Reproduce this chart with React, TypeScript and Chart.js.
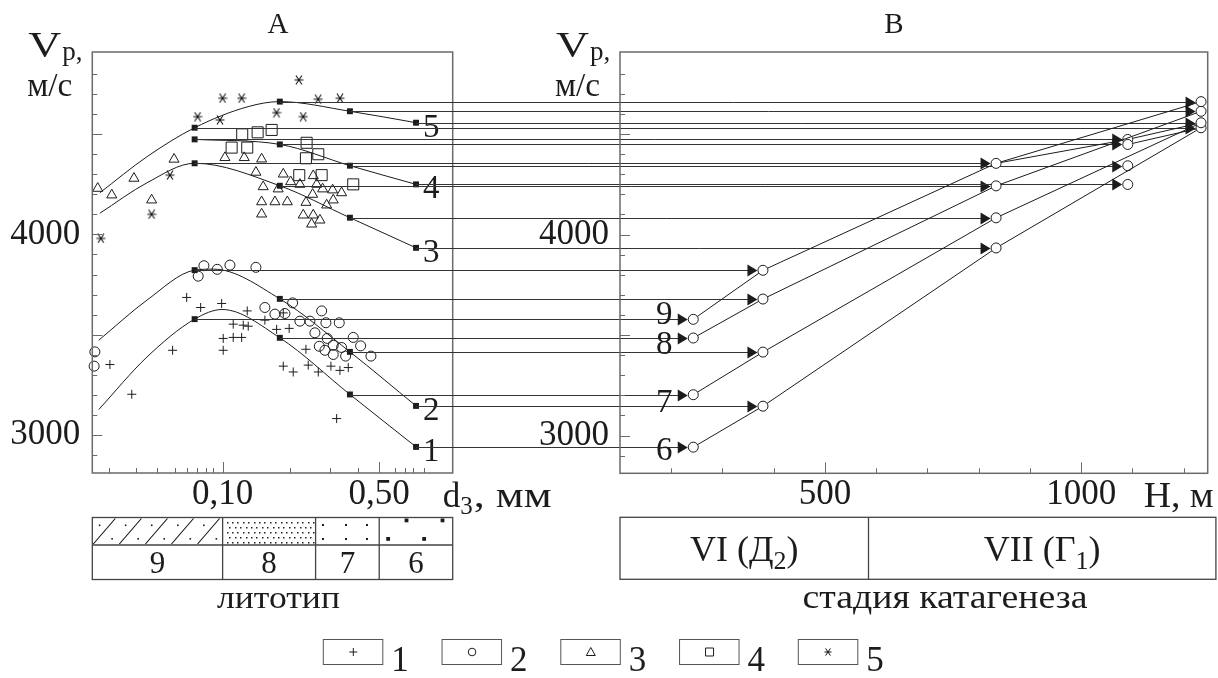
import React, { useEffect, useRef } from 'react';
import { Chart, registerables } from 'chart.js';

Chart.register(...registerables);

const W = 1218;
const H = 678;
const SERIF = '"Liberation Serif", "Times New Roman", serif';
const INK = '#1c1c1c';
const FRAME = '#6a6a6a';
const LINK = '#333333';

// ---------------- Panel A: Vp vs grain size d3 (mm), log axis ----------------
const dMin = 0.0262;
const dMax = 1.064;
const dTickValues = [0.1, 0.5];
const dTickLabels = ['0,10', '0,50'];
const dMinorTicks = [0.031, 0.041, 0.051, 0.061, 0.069, 0.077, 0.084, 0.091, 0.2, 0.3, 0.4, 0.59, 0.65, 0.71, 0.79];

const vpMin = 2812;
const vpMax = 4908;
const vpTickValues = [3000, 4000];
const vpMinorTicks = [2900, 3000, 3100, 3200, 3300, 3400, 3500, 3600, 3700, 3800, 3900, 4000, 4100, 4200, 4300, 4400, 4500, 4600, 4700, 4800];

// group 1 (+)
const plusD = [0.0314, 0.0393, 0.0598, 0.0691, 0.0798, 0.099, 0.1006, 0.1006, 0.1115, 0.1236, 0.1288, 0.1301, 0.1115, 0.1216, 0.1544, 0.1742, 0.1865, 0.1982, 0.1865, 0.2066, 0.2355, 0.241, 0.2673, 0.3044, 0.3339, 0.3638, 0.3228];
const plusV = [3352, 3204, 3423, 3686, 3636, 3656, 3482, 3423, 3553, 3548, 3619, 3543, 3487, 3487, 3573, 3527, 3609, 3532, 3344, 3315, 3428, 3349, 3315, 3344, 3323, 3337, 3083];
// group 2 (o)
const circD = [0.0269, 0.0267, 0.0825, 0.0778, 0.0946, 0.1078, 0.1408, 0.1544, 0.1712, 0.1897, 0.2053, 0.2213, 0.2453, 0.2767, 0.2891, 0.3316, 0.2582, 0.2931, 0.27, 0.2862, 0.3117, 0.3117, 0.3396, 0.354, 0.3828, 0.413, 0.4592];
const circV = [3415, 3344, 3844, 3792, 3826, 3847, 3836, 3636, 3603, 3606, 3659, 3568, 3568, 3619, 3560, 3560, 3510, 3482, 3443, 3423, 3448, 3402, 3437, 3394, 3487, 3445, 3394];
// group 3 (triangle)
const triD = [0.0277, 0.032, 0.0402, 0.0482, 0.0607, 0.1024, 0.1249, 0.1493, 0.1408, 0.1517, 0.177, 0.1865, 0.2012, 0.2213, 0.1493, 0.1712, 0.1944, 0.1493, 0.2355, 0.229, 0.2522, 0.2538, 0.2496, 0.2538, 0.2719, 0.2795, 0.2913, 0.3097, 0.3117, 0.3396, 0.2628];
const triV = [4229, 4196, 4279, 4171, 4374, 4382, 4382, 4375, 4309, 4237, 4226, 4300, 4262, 4249, 4162, 4162, 4162, 4101, 4159, 4096, 4199, 4292, 4051, 4096, 4071, 4226, 4146, 4221, 4171, 4207, 4249];
// group 4 (square)
const sqD = [0.1223, 0.1433, 0.1655, 0.1097, 0.1288, 0.2371, 0.2354, 0.2673, 0.2198, 0.2767, 0.3828];
const sqV = [4498, 4508, 4520, 4432, 4432, 4456, 4379, 4399, 4295, 4295, 4249];
// group 5 (asterisk)
const starD = [0.0286, 0.0482, 0.0582, 0.0773, 0.0973, 0.1, 0.1216, 0.174, 0.219, 0.229, 0.267, 0.334];
const starV = [3980, 4100, 4295, 4586, 4570, 4678, 4678, 4606, 4769, 4586, 4673, 4678];

// regression curves 1..5
const curve1D = [0.028, 0.046, 0.075, 0.0995, 0.18, 0.37, 0.73];
const curve1V = [3128, 3390, 3578, 3626, 3485, 3203, 2942];
const curve2D = [0.028, 0.046, 0.075, 0.091, 0.18, 0.37, 0.73];
const curve2V = [3473, 3673, 3822, 3827, 3679, 3415, 3146];
const curve3D = [0.0283, 0.046, 0.075, 0.18, 0.37, 0.73];
const curve3V = [4105, 4257, 4354, 4242, 4083, 3933];
const curve4D = [0.075, 0.18, 0.37, 0.73];
const curve4V = [4473, 4448, 4342, 4249];
const curve5D = [0.0283, 0.046, 0.075, 0.13, 0.18, 0.37, 0.73];
const curve5V = [4207, 4387, 4531, 4636, 4661, 4613, 4556];
const curveLabels = ['1', '2', '3', '4', '5'];

// lithotypes 9, 8, 7, 6: representative grain size and Vp of each group (1..5)
const lithoNames = ['9', '8', '7', '6'];
const lithoD = [0.075, 0.18, 0.37, 0.73];
const lithoBounds = [0.1, 0.26, 0.5];
const vpGroup1 = [3578, 3485, 3203, 2942];
const vpGroup2 = [3822, 3679, 3415, 3146];
const vpGroup3 = [4354, 4242, 4083, 3933];
const vpGroup4 = [4473, 4448, 4342, 4249];
const vpGroup5 = [4531, 4661, 4613, 4556];

// ---------------- Panel B: Vp vs depth H (m) ----------------
const hMin = 100;
const hMax = 1247;
const hTickValues = [500, 1000];
const hTickLabels = ['500', '1000'];
const hMinorTicks = [200, 300, 400, 500, 600, 700, 800, 900, 1000, 1100, 1200];
const groupDepth = [243, 379, 834, 1091, 1234];
const lineDepth = [243, 379, 834, 1234];
const line9 = [3578, 3822, 4354, 4661];
const line8 = [3485, 3679, 4242, 4613];
const line7 = [3203, 3415, 4083, 4556];
const line6 = [2942, 3146, 3933, 4531];
const linkFromH = [834, 1091, 1091];
const linkFromV = [4354, 4473, 4448];
const linkToH = [1091, 1234, 1234];
const linkToV = [4473, 4556, 4531];
const lineLabelDy = [-6, 5, 6, 2];
const stageBounds = [585];
const stageEnd = 1263;
const stageNames = [['VI (Д', '2', ')'], ['VII (Г', '1', ')']];
const legendNames = ['1', '2', '3', '4', '5'];

const f = (px: number) => `${px}px ${SERIF}`;

function text(ctx: any, s: string, x: number, y: number, px: number, align = 'left', width?: number) {
  ctx.font = f(px);
  ctx.textAlign = 'left';
  ctx.textBaseline = 'alphabetic';
  const w = ctx.measureText(s).width;
  const sx = width ? width / w : 1;
  const dw = w * sx;
  let left = x;
  if (align === 'center') left = x - dw / 2;
  if (align === 'right') left = x - dw;
  ctx.save();
  ctx.translate(left, y);
  ctx.scale(sx, 1);
  ctx.fillText(s, 0, 0);
  ctx.restore();
  return left + dw;
}

function subText(ctx: any, parts: string[], cx: number, base: number, px: number) {
  const sp = Math.round(px * 0.72);
  ctx.font = f(px);
  const w0 = ctx.measureText(parts[0]).width;
  const w2 = ctx.measureText(parts[2]).width;
  ctx.font = f(sp);
  const w1 = ctx.measureText(parts[1]).width;
  let x = cx - (w0 + w1 + w2) / 2;
  x = text(ctx, parts[0], x, base, px);
  x = text(ctx, parts[1], x, base + px * 0.2, sp);
  text(ctx, parts[2], x, base, px);
}

function makeStar(size: number, lw: number) {
  const c = document.createElement('canvas');
  c.width = size;
  c.height = size;
  const g = c.getContext('2d')!;
  g.strokeStyle = '#111';
  g.lineWidth = lw;
  const m = size / 2;
  g.beginPath();
  g.moveTo(0.5, m);
  g.lineTo(size - 0.5, m);
  g.moveTo(m - size * 0.3, m - size * 0.45);
  g.lineTo(m + size * 0.3, m + size * 0.45);
  g.moveTo(m + size * 0.3, m - size * 0.45);
  g.lineTo(m - size * 0.3, m + size * 0.45);
  g.stroke();
  return c;
}

function drawFrame(ctx: any, a: any) {
  ctx.strokeStyle = FRAME;
  ctx.lineWidth = 1.5;
  ctx.strokeRect(a.left, a.top, a.right - a.left, a.bottom - a.top);
}

function drawYTicks(ctx: any, a: any, y: any) {
  ctx.strokeStyle = FRAME;
  ctx.lineWidth = 1;
  ctx.beginPath();
  for (const v of vpMinorTicks) {
    const py = Math.round(y.getPixelForValue(v)) + 0.5;
    const len = v % 500 === 0 ? 10 : 5;
    ctx.moveTo(a.left, py);
    ctx.lineTo(a.left + len, py);
  }
  ctx.stroke();
}

function drawXTicks(ctx: any, a: any, x: any, minor: number[], major: number[]) {
  ctx.strokeStyle = FRAME;
  ctx.lineWidth = 1;
  ctx.beginPath();
  for (const v of minor) {
    const px = Math.round(x.getPixelForValue(v)) + 0.5;
    ctx.moveTo(px, a.bottom);
    ctx.lineTo(px, a.bottom - 5);
  }
  for (const v of major) {
    const px = Math.round(x.getPixelForValue(v)) + 0.5;
    ctx.moveTo(px, a.bottom);
    ctx.lineTo(px, a.bottom - 11);
  }
  ctx.stroke();
}

function drawVpLabel(ctx: any, a: any) {
  ctx.fillStyle = INK;
  const end = text(ctx, 'V', a.left - 64, a.top + 5, 35, 'left', 33);
  text(ctx, 'p,', end + 1, a.top + 8, 27);
  text(ctx, 'м/с', a.left - 65, a.top + 44, 34, 'left', 45);
}

function drawSymbol(ctx: any, kind: number, x: number, y: number, star: any) {
  ctx.strokeStyle = INK;
  ctx.lineWidth = 1;
  ctx.beginPath();
  if (kind === 0) {
    ctx.moveTo(x - 4, y); ctx.lineTo(x + 4, y);
    ctx.moveTo(x, y - 4); ctx.lineTo(x, y + 4);
  } else if (kind === 1) {
    ctx.arc(x, y, 3.8, 0, Math.PI * 2);
  } else if (kind === 2) {
    ctx.moveTo(x, y - 4.5); ctx.lineTo(x + 4.5, y + 3.5); ctx.lineTo(x - 4.5, y + 3.5); ctx.closePath();
  } else if (kind === 3) {
    ctx.rect(x - 4, y - 4, 8, 8);
  }
  ctx.stroke();
  if (kind === 4) ctx.drawImage(star, Math.round(x - star.width / 2), Math.round(y - star.height / 2));
}

function drawLithoTable(ctx: any, a: any, x: any) {
  const top = a.bottom + 44.5;
  const mid = a.bottom + 72;
  const bot = a.bottom + 106.5;
  const edges = [a.left, ...lithoBounds.map((v) => x.getPixelForValue(v)), a.right];
  ctx.strokeStyle = '#444';
  ctx.lineWidth = 1.3;
  ctx.strokeRect(a.left, top, a.right - a.left, bot - top);
  ctx.beginPath();
  ctx.moveTo(a.left, mid); ctx.lineTo(a.right, mid);
  for (let i = 1; i < edges.length - 1; i++) {
    ctx.moveTo(edges[i], top); ctx.lineTo(edges[i], bot);
  }
  ctx.stroke();
  ctx.fillStyle = INK;
  // cell 9: slashes + dots
  {
    const l = edges[0], r = edges[1], step = (r - l) / 5;
    ctx.save();
    ctx.beginPath(); ctx.rect(l, top, r - l, mid - top); ctx.clip();
    ctx.strokeStyle = '#111'; ctx.lineWidth = 1.1;
    ctx.beginPath();
    for (let k = 0; k < 5; k++) {
      ctx.moveTo(l + 1 + k * step, mid - 1);
      ctx.lineTo(l + 23 + k * step, top + 1);
    }
    ctx.stroke();
    for (let k = 0; k < 5; k++) {
      ctx.fillRect(l + 6.5 + k * step, top + 7, 1.6, 1.6);
      ctx.fillRect(l + 19 + k * step, top + 20.5, 1.6, 1.6);
    }
    ctx.restore();
  }
  // cell 8: dense dots
  {
    const l = edges[1], r = edges[2];
    ctx.fillStyle = '#222';
    for (let row = 0; row < 5; row++) {
      const yy = top + 4 + row * 5;
      for (let xx = l + 4 + (row % 2) * 2.7; xx < r - 2; xx += 5.4) ctx.fillRect(Math.round(xx), Math.round(yy), 1.5, 1.5);
    }
  }
  // cell 7: sparse dots
  {
    const l = edges[2], r = edges[3], wd = r - l;
    ctx.fillStyle = INK;
    for (const fx of [0.1, 0.46, 0.8]) {
      ctx.fillRect(Math.round(l + fx * wd), Math.round(top + 6.5), 2, 2);
      ctx.fillRect(Math.round(l + fx * wd), Math.round(top + 20.5), 2, 2);
    }
  }
  // cell 6: coarse squares
  {
    const l = edges[3], r = edges[4], wd = r - l;
    ctx.fillStyle = INK;
    ctx.fillRect(l + 0.37 * wd - 1.8, top + 1, 3.8, 3.8);
    ctx.fillRect(l + 0.86 * wd - 1.8, top + 1, 3.8, 3.8);
    ctx.fillRect(l + 0.12 * wd - 1.8, top + 19.5, 3.8, 3.8);
    ctx.fillRect(l + 0.61 * wd - 1.8, top + 19.5, 3.8, 3.8);
  }
  ctx.fillStyle = INK;
  for (let i = 0; i < lithoNames.length; i++) {
    text(ctx, lithoNames[i], (edges[i] + edges[i + 1]) / 2, bot - 7, 31, 'center');
  }
  text(ctx, 'литотип', (a.left + a.right) / 2 + 6, a.bottom + 135, 31, 'center', 123);
}

function buildCharts(canvasA: any, canvasB: any) {
  const star = makeStar(10, 1.1);
  const starSmall = makeStar(8, 1);
  const pts = (xs: number[], ys: number[]) => xs.map((x, i) => ({ x, y: ys[i] }));
  const groupVps = [vpGroup1, vpGroup2, vpGroup3, vpGroup4, vpGroup5];

  const tickFont = { family: SERIF, size: 35, lineHeight: 1 };
  const yAxis = (width: number, pad: number) => ({
    type: 'linear',
    min: vpMin,
    max: vpMax,
    bounds: 'data',
    grid: { display: false, drawTicks: false },
    border: { display: false },
    afterFit: (s: any) => { s.width = width; },
    afterBuildTicks: (s: any) => { s.ticks = vpTickValues.map((v) => ({ value: v })); },
    ticks: { padding: pad, color: INK, font: tickFont, callback: (v: any) => String(v) },
  });

  const curveSet = (xs: number[], ys: number[]) => ({
    data: pts(xs, ys),
    showLine: true,
    cubicInterpolationMode: 'monotone',
    borderColor: INK,
    borderWidth: 1,
    pointRadius: 0,
  });
  const squares: any[] = [];
  groupVps.forEach((vals) => vals.forEach((v, i) => squares.push({ x: lithoD[i], y: v })));
  const scatterBase = { showLine: false, borderColor: INK, borderWidth: 1, backgroundColor: 'rgba(0,0,0,0)', clip: false };

  const plugA = {
    id: 'panelA',
    afterDraw(chart: any) {
      const { ctx, chartArea: a, scales } = chart;
      const x = scales.x, y = scales.y;
      ctx.save();
      drawFrame(ctx, a);
      drawYTicks(ctx, a, y);
      drawXTicks(ctx, a, x, dMinorTicks, dTickValues);
      ctx.fillStyle = INK;
      text(ctx, 'A', a.left + 0.515 * (a.right - a.left), 33, 29, 'center');
      drawVpLabel(ctx, a);
      let e = text(ctx, 'd', a.right - 10, 507, 35);
      e = text(ctx, '3', e, 514, 25);
      text(ctx, ', мм', e + 1, 507, 35, 'left', 78);
      const lastV = [vpGroup1[3], vpGroup2[3], vpGroup3[3], vpGroup4[3], vpGroup5[3]];
      for (let i = 0; i < 5; i++) {
        const px = x.getPixelForValue(lithoD[3]);
        const py = y.getPixelForValue(lastV[i]);
        text(ctx, curveLabels[i], px + 7, py + 14, 33);
      }
      drawLithoTable(ctx, a, x);
      for (let i = 0; i < legendNames.length; i++) {
        const bx = 323.3 + i * 118.75;
        ctx.strokeStyle = '#555';
        ctx.lineWidth = 1;
        ctx.strokeRect(bx, 639.5, 59.5, 25);
        drawSymbol(ctx, i, bx + 30, 652, starSmall);
        ctx.fillStyle = INK;
        text(ctx, legendNames[i], bx + 68, 671, 35);
      }
      ctx.restore();
    },
  };

  const chartA = new Chart(canvasA, {
    type: 'scatter',
    data: {
      datasets: [
        { data: squares, showLine: false, pointStyle: 'rect', pointRadius: 4.2, backgroundColor: INK, borderColor: INK, borderWidth: 0, clip: false },
        { ...scatterBase, data: pts(plusD, plusV), pointStyle: 'cross', pointRadius: 4.5 },
        { ...scatterBase, data: pts(circD, circV), pointStyle: 'circle', pointRadius: 5 },
        { ...scatterBase, data: pts(triD, triV), pointStyle: 'triangle', pointRadius: 5.8 },
        { ...scatterBase, data: pts(sqD, sqV), pointStyle: 'rect', pointRadius: 7.8 },
        { ...scatterBase, data: pts(starD, starV), pointStyle: star, pointRadius: 5 },
        curveSet(curve1D, curve1V),
        curveSet(curve2D, curve2V),
        curveSet(curve3D, curve3V),
        curveSet(curve4D, curve4V),
        curveSet(curve5D, curve5V),
      ],
    },
    options: {
      animation: false,
      responsive: false,
      maintainAspectRatio: false,
      events: [],
      layout: { padding: { left: 0, top: 52, right: W - 452.7, bottom: 165 } },
      plugins: { legend: { display: false }, tooltip: { enabled: false } },
      scales: {
        x: {
          type: 'logarithmic',
          min: dMin,
          max: dMax,
          bounds: 'data',
          grid: { display: false, drawTicks: false },
          border: { display: false },
          afterFit: (s: any) => { s.height = 40; },
          afterBuildTicks: (s: any) => { s.ticks = dTickValues.map((v) => ({ value: v })); },
          ticks: { autoSkip: false, maxRotation: 0, minRotation: 0, padding: 4, color: INK, font: tickFont, callback: (_v: any, i: number) => dTickLabels[i] },
        },
        y: yAxis(92.3, 12),
      },
    } as any,
    plugins: [plugA],
  } as any);

  const plugB = {
    id: 'panelB',
    beforeDatasetsDraw(chart: any) {
      const { ctx, scales } = chart;
      const xa = chartA.scales.x;
      const xb = scales.x, y = scales.y;
      ctx.save();
      ctx.strokeStyle = LINK;
      ctx.fillStyle = INK;
      ctx.lineWidth = 1;
      groupVps.forEach((vals, g) => {
        const cx = xb.getPixelForValue(groupDepth[g]);
        vals.forEach((v, i) => {
          const py = Math.round(y.getPixelForValue(v)) + 0.5;
          const x0 = xa.getPixelForValue(lithoD[i]);
          const tip = cx - 5.5;
          ctx.beginPath();
          ctx.moveTo(x0, py);
          ctx.lineTo(tip - 8, py);
          ctx.stroke();
          ctx.beginPath();
          ctx.moveTo(tip, py);
          ctx.lineTo(tip - 10, py - 6);
          ctx.lineTo(tip - 10, py + 6);
          ctx.closePath();
          ctx.fill();
        });
      });
      ctx.restore();
    },
    afterDraw(chart: any) {
      const { ctx, chartArea: a, scales } = chart;
      const x = scales.x, y = scales.y;
      ctx.save();
      drawFrame(ctx, a);
      drawYTicks(ctx, a, y);
      drawXTicks(ctx, a, x, hMinorTicks, hTickValues);
      ctx.fillStyle = INK;
      text(ctx, 'B', a.left + 0.466 * (a.right - a.left), 33, 29, 'center');
      drawVpLabel(ctx, a);
      text(ctx, 'H, м', a.right - 64, 507, 35, 'left', 70);
      const firstV = [line9[0], line8[0], line7[0], line6[0]];
      for (let i = 0; i < 4; i++) {
        const px = x.getPixelForValue(lineDepth[0]);
        const py = y.getPixelForValue(firstV[i]);
        text(ctx, lithoNames[i], px - 29, py + lineLabelDy[i] + 11, 33, 'center');
      }
      const top = a.bottom + 44;
      const bot = a.bottom + 106;
      const right = x.getPixelForValue(stageEnd);
      const edges = [a.left, ...stageBounds.map((v) => x.getPixelForValue(v)), right];
      ctx.strokeStyle = '#444';
      ctx.lineWidth = 1.3;
      ctx.strokeRect(a.left, top, right - a.left, bot - top);
      ctx.beginPath();
      for (let i = 1; i < edges.length - 1; i++) {
        ctx.moveTo(edges[i], top);
        ctx.lineTo(edges[i], bot);
      }
      ctx.stroke();
      ctx.fillStyle = INK;
      for (let i = 0; i < stageNames.length; i++) {
        subText(ctx, stageNames[i], (edges[i] + edges[i + 1]) / 2, top + 44, 36);
      }
      text(ctx, 'стадия катагенеза', 945, 608 + (a.bottom - 473.3), 34, 'center', 285);
      ctx.restore();
    },
  };

  const lithLines = [line9, line8, line7, line6];
  const circleStyle = { pointStyle: 'circle', pointRadius: 5, pointBackgroundColor: '#fff', pointBorderColor: INK, pointBorderWidth: 1, clip: false };
  const chartB = new Chart(canvasB, {
    type: 'scatter',
    data: {
      datasets: [
        ...lithLines.map((vals) => ({ ...circleStyle, data: pts(lineDepth, vals), showLine: true, borderColor: INK, borderWidth: 1 })),
        { ...circleStyle, data: vpGroup4.map((v) => ({ x: groupDepth[3], y: v })), showLine: false },
        ...linkFromH.map((h, i) => ({
          data: [{ x: h, y: linkFromV[i] }, { x: linkToH[i], y: linkToV[i] }],
          showLine: true, borderColor: INK, borderWidth: 1, pointRadius: 0,
        })),
      ],
    },
    options: {
      animation: false,
      responsive: false,
      maintainAspectRatio: false,
      events: [],
      layout: { padding: { left: 0, top: 52, right: W - 1207.7, bottom: 164.7 } },
      plugins: { legend: { display: false }, tooltip: { enabled: false } },
      scales: {
        x: {
          type: 'linear',
          min: hMin,
          max: hMax,
          bounds: 'data',
          grid: { display: false, drawTicks: false },
          border: { display: false },
          afterFit: (s: any) => { s.height = 40; },
          afterBuildTicks: (s: any) => { s.ticks = hTickValues.map((v) => ({ value: v })); },
          ticks: { autoSkip: false, maxRotation: 0, minRotation: 0, padding: 4, color: INK, font: tickFont, callback: (_v: any, i: number) => hTickLabels[i] },
        },
        y: yAxis(620, 11),
      },
    } as any,
    plugins: [plugB],
  } as any);

  return [chartA, chartB];
}

export default function App() {
  const refA = useRef<HTMLCanvasElement>(null);
  const refB = useRef<HTMLCanvasElement>(null);

  useEffect(() => {
    document.body.style.margin = '0';
    let cancelled = false;
    let charts: any[] = [];
    const fontsReady = (document as any).fonts
      ? Promise.all([
          (document as any).fonts.load('35px "Liberation Serif"', 'Vp 4000 литотип'),
          (document as any).fonts.load('25px "Liberation Serif"', '123'),
        ]).catch(() => null)
      : Promise.resolve(null);
    fontsReady.then(() => {
      if (cancelled) return;
      charts = buildCharts(refA.current, refB.current);
    });
    return () => {
      cancelled = true;
      charts.forEach((c) => c.destroy());
      charts = [];
    };
  }, []);

  return (
    <div style={{ position: 'fixed', left: 0, top: 0, width: W, height: H, background: '#fff' }}>
      <canvas ref={refA} width={W} height={H} style={{ position: 'absolute', left: 0, top: 0 }} />
      <canvas ref={refB} width={W} height={H} style={{ position: 'absolute', left: 0, top: 0 }} />
    </div>
  );
}
